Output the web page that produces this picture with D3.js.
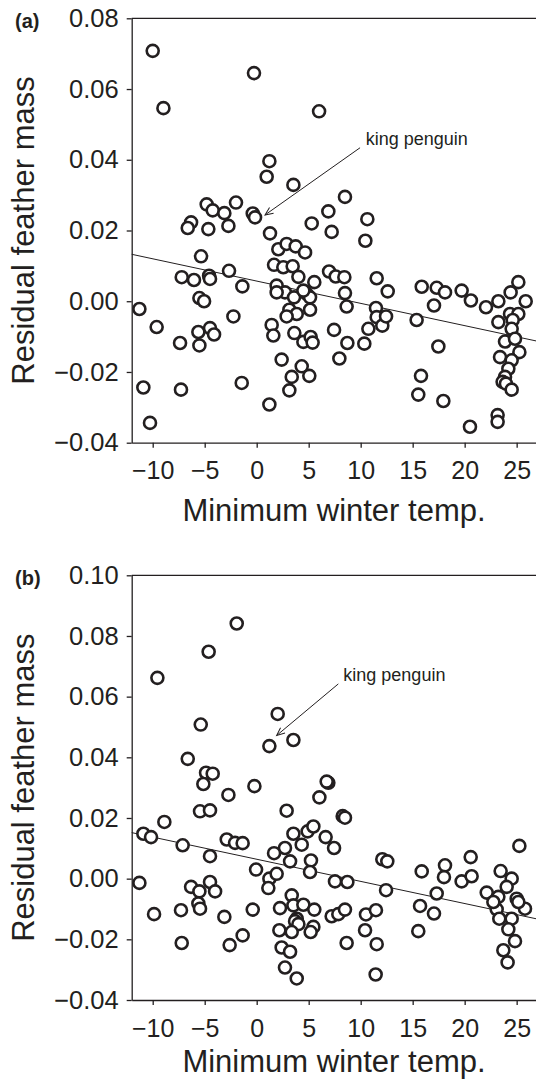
<!DOCTYPE html>
<html>
<head>
<meta charset="utf-8">
<script src="https://cdn.jsdelivr.net/npm/d3@7"></script>
<style>
body { margin: 0; background: #fff; }
svg text { font-family: "Liberation Sans", Arial, sans-serif; fill: #231f20; }
</style>
</head>
<body>
<div class="d3-container"></div>
<script>
// panel (a) points: minimum winter temp vs residual feather mass
const tempA = [-10.0, -0.26, -8.97, 6.0, 1.22, 0.96, 3.53, 8.49, -4.81, -1.99,
  -4.23, -3.11, -6.31, -6.63, -4.65, -2.72, -0.38, -0.16, 6.89, 5.29,
  7.21, 10.64, 10.45, 1.28, 2.08, 2.88, 3.75, 4.65, -5.35, -7.21,
  -6.03, -4.58, -4.49, -2.66, -1.38, 1.67, 2.56, 3.46, 4.01, 1.92,
  2.72, 1.92, 3.59, 4.81, 5.13, 5.54, 6.96, 7.60, 8.43, 8.49,
  8.65, 11.54, 12.6, -5.51, -5.06, -11.28, -9.62, -2.24, 3.14, 3.85,
  5.13, 2.88, -5.61, -4.49, -4.1, -7.37, -5.51, 1.44, 1.6, 3.62,
  4.49, 5.19, 5.38, 7.44, 8.72, 10.35, 10.74, 11.47, 11.54, 12.08,
  12.44, 2.4, 4.33, 5.06, 3.37, 3.14, 7.95, -1.44, 1.22, -10.9,
  -7.28, -10.26, 15.38, 15.87, 17.31, 18.11, 17.05, 17.47, 15.8, 15.54,
  17.95, 19.71, 20.6, 22.05, 20.51, 23.17, 23.17, 23.24, 24.42, 25.16,
  25.87, 23.24, 24.36, 25.16, 24.62, 24.52, 23.88, 24.84, 25.26, 23.4,
  24.52, 24.2, 23.88, 23.65, 23.97, 24.52, 4.49];
const massA = [0.0708, 0.0645, 0.0546, 0.0537, 0.0396, 0.0352, 0.0329, 0.0295, 0.0274, 0.0279,
  0.0257, 0.0249, 0.0223, 0.0207, 0.0204, 0.0213, 0.0248, 0.0237, 0.0254, 0.0220,
  0.0196, 0.0232, 0.0171, 0.0192, 0.0147, 0.0162, 0.0155, 0.0138, 0.0127, 0.0068,
  0.0060, 0.0072, 0.0063, 0.0086, 0.0042, 0.0103, 0.0096, 0.0099, 0.0069, 0.0044,
  0.0025, 0.0025, 0.0011, 0.0021, 0.0011, 0.0054, 0.0084, 0.0070, 0.0068, 0.0023,
  -0.0015, 0.0065, 0.0028, 0.0009, 0.0000, -0.0022, -0.0073, -0.0043, -0.0024, -0.0036,
  -0.0024, -0.0043, -0.0087, -0.0076, -0.0094, -0.0118, -0.0125, -0.0067, -0.0097, -0.0090,
  -0.0115, -0.0101, -0.0117, -0.0081, -0.0118, -0.0120, -0.0078, -0.0019, -0.0045, -0.0069,
  -0.0043, -0.0165, -0.0184, -0.0211, -0.0214, -0.0252, -0.0162, -0.0231, -0.0292, -0.0244,
  -0.0250, -0.0344, -0.0053, 0.0041, 0.0038, 0.0025, -0.0012, -0.0128, -0.0211, -0.0264,
  -0.0282, 0.0030, 0.0002, -0.0017, -0.0355, -0.0322, -0.0341, 0.0000, 0.0025, 0.0054,
  0.0000, -0.0059, -0.0036, -0.0036, -0.0053, -0.0078, -0.0114, -0.0106, -0.0144, -0.0158,
  -0.0167, -0.0191, -0.0214, -0.0228, -0.0233, -0.0250, 0.0030];

// panel (b) points
const tempB = [-1.92, -4.62, -9.55, 2.02, -5.38, 3.53, 1.22, -6.63, -4.87, -4.23,
  -5.13, 6.89, 6.73, 6.03, -2.72, -0.22, -5.45, -4.49, 2.88, 8.27,
  8.49, -8.88, -10.9, -10.16, -7.12, -4.49, -2.88, -2.08, -1.35, 3.53,
  4.9, 5.45, 4.33, 2.72, 1.67, 3.21, 6.63, 7.44, 5.22, 5.13,
  12.08, 12.56, -0.06, 1.22, 1.92, 1.12, -11.28, -6.31, -5.51, -4.49,
  -4.0, -5.61, -5.45, -7.28, -9.87, -3.11, -0.38, -7.21, -2.6, -1.35,
  7.53, 8.72, 12.44, 3.37, 2.24, 3.53, 4.49, 5.54, 7.21, 7.85,
  8.49, 3.85, 3.69, 4.01, 5.45, 5.19, 2.18, 3.37, 2.4, 3.21,
  2.72, 3.85, 8.65, 10.51, 11.47, 10.42, 11.54, 11.44, 15.87, 15.71,
  17.05, 15.54, 17.31, 18.11, 18.01, 19.71, 20.58, 20.67, 22.12, 23.46,
  24.52, 25.26, 23.24, 24.04, 25.0, 25.8, 23.08, 23.33, 24.52, 24.2,
  24.84, 23.72, 24.13, 25.16, 22.76];
const massB = [0.0841, 0.0748, 0.0662, 0.0543, 0.0508, 0.0457, 0.0437, 0.0395, 0.0349, 0.0346,
  0.0312, 0.0316, 0.0320, 0.0268, 0.0276, 0.0305, 0.0222, 0.0225, 0.0224, 0.0206,
  0.0201, 0.0187, 0.0148, 0.0137, 0.0110, 0.0074, 0.0129, 0.0118, 0.0117, 0.0148,
  0.0156, 0.0172, 0.0112, 0.0101, 0.0084, 0.0057, 0.0137, 0.0101, 0.0060, 0.0022,
  0.0064, 0.0057, 0.0030, 0.0000, 0.0016, -0.0031, -0.0014, -0.0027, -0.0042, -0.0011,
  -0.0042, -0.0082, -0.0099, -0.0104, -0.0117, -0.0126, -0.0102, -0.0212, -0.0219, -0.0187,
  -0.0009, -0.0011, -0.0038, -0.0055, -0.0097, -0.0088, -0.0086, -0.0102, -0.0124, -0.0117,
  -0.0102, -0.0132, -0.0140, -0.0150, -0.0159, -0.0176, -0.0170, -0.0176, -0.0227, -0.0241,
  -0.0293, -0.0329, -0.0212, -0.0118, -0.0104, -0.0170, -0.0216, -0.0316, 0.0024, -0.0090,
  -0.0115, -0.0173, -0.0049, 0.0044, 0.0005, -0.0009, 0.0071, 0.0008, -0.0046, 0.0025,
  0.0000, 0.0108, -0.0060, -0.0027, -0.0066, -0.0099, -0.0101, -0.0132, -0.0132, -0.0167,
  -0.0206, -0.0236, -0.0276, -0.0077, -0.0077];

// fitted lines [intercept, slope]
const fitA = [0.0057, -0.00063];
const fitB = [0.0064, -0.00073];

const xTicks = [-10, -5, 0, 5, 10, 15, 20, 25];
const yTicksA = [-0.04, -0.02, 0.00, 0.02, 0.04, 0.06, 0.08];
const yTicksB = [-0.04, -0.02, 0.00, 0.02, 0.04, 0.06, 0.08, 0.10];

// annotation: [text x, text y, arrow start x, y, arrow tip x, y]
const noteA = [10.48, 0.0443, 9.94, 0.0434, 0.8, 0.0244];
const noteB = [8.33, 0.0653, 7.85, 0.0642, 1.92, 0.0472];

const width = 536;
const height = 1080;
const left = 131.7;

const svg = d3.select(".d3-container")
  .append("svg")
  .attr("width", width)
  .attr("height", height);

svg.append("defs").append("marker")
  .attr("id", "arrow")
  .attr("markerUnits", "userSpaceOnUse")
  .attr("viewBox", "-10 -6 12 12")
  .attr("markerWidth", 12)
  .attr("markerHeight", 12)
  .attr("orient", "auto")
  .append("path")
  .attr("d", "M-8,-3.5L0,0L-8,3.5")
  .attr("fill", "none")
  .attr("stroke", "#231f20")
  .attr("stroke-width", 1);

const x = d3.scaleLinear()
  .domain([-12.02, 26.86])
  .range([left, width]);

const panels = [
  {label: "(a)", temp: tempA, mass: massA, fit: fitA, note: noteA,
   yDomain: [-0.04, 0.08], yTicks: yTicksA, top: 18.3, bottom: 442.7, titleY: 521},
  {label: "(b)", temp: tempB, mass: massB, fit: fitB, note: noteB,
   yDomain: [-0.04, 0.10], yTicks: yTicksB, top: 575.3, bottom: 1000, titleY: 1072}
];

panels.forEach(p => {
  const y = d3.scaleLinear().domain(p.yDomain).range([p.bottom, p.top]);
  const g = svg.append("g");

  // top border
  g.append("line")
    .attr("x1", left).attr("x2", width)
    .attr("y1", p.top).attr("y2", p.top)
    .attr("stroke", "#231f20").attr("stroke-width", 1.3);

  g.append("g")
    .attr("transform", `translate(${left},0)`)
    .call(d3.axisLeft(y).tickValues(p.yTicks).tickFormat(d3.format(".2f"))
      .tickSize(5).tickSizeOuter(0).tickPadding(8))
    .call(a => a.selectAll("path, line").attr("stroke", "#231f20").attr("stroke-width", 1.3))
    .call(a => a.selectAll("text").attr("font-size", 25.5).attr("font-family", null));

  g.append("g")
    .attr("transform", `translate(0,${p.bottom})`)
    .call(d3.axisBottom(x).tickValues(xTicks).tickFormat(d3.format("d"))
      .tickSize(5).tickSizeOuter(0).tickPadding(14))
    .call(a => a.selectAll("path, line").attr("stroke", "#231f20").attr("stroke-width", 1.3))
    .call(a => a.selectAll("text").attr("font-size", 25).attr("font-family", null));

  // regression line
  const xd = x.domain();
  g.append("line")
    .attr("x1", x(xd[0])).attr("y1", y(p.fit[0] + p.fit[1] * xd[0]))
    .attr("x2", x(xd[1])).attr("y2", y(p.fit[0] + p.fit[1] * xd[1]))
    .attr("stroke", "#231f20").attr("stroke-width", 1);

  g.append("g")
    .attr("fill", "#fff")
    .attr("stroke", "#231f20")
    .attr("stroke-width", 2.6)
    .selectAll("circle")
    .data(d3.range(p.temp.length))
    .join("circle")
    .attr("cx", i => x(p.temp[i]))
    .attr("cy", i => y(p.mass[i]))
    .attr("r", 6);

  // king penguin note
  g.append("text")
    .attr("x", x(p.note[0])).attr("y", y(p.note[1]))
    .attr("font-size", 18)
    .text("king penguin");
  g.append("line")
    .attr("x1", x(p.note[2])).attr("y1", y(p.note[3]))
    .attr("x2", x(p.note[4])).attr("y2", y(p.note[5]))
    .attr("stroke", "#231f20").attr("stroke-width", 1)
    .attr("marker-end", "url(#arrow)");

  // panel label
  g.append("text")
    .attr("x", 15).attr("y", p.top + 9.5)
    .attr("font-size", 20).attr("font-weight", "bold")
    .text(p.label);

  // axis titles
  g.append("text")
    .attr("transform", `translate(34,${(p.top + p.bottom) / 2}) rotate(-90)`)
    .attr("text-anchor", "middle")
    .attr("font-size", 31)
    .text("Residual feather mass");

  g.append("text")
    .attr("x", 334).attr("y", p.titleY)
    .attr("text-anchor", "middle")
    .attr("font-size", 31)
    .text("Minimum winter temp.");
});
</script>
</body>
</html>
